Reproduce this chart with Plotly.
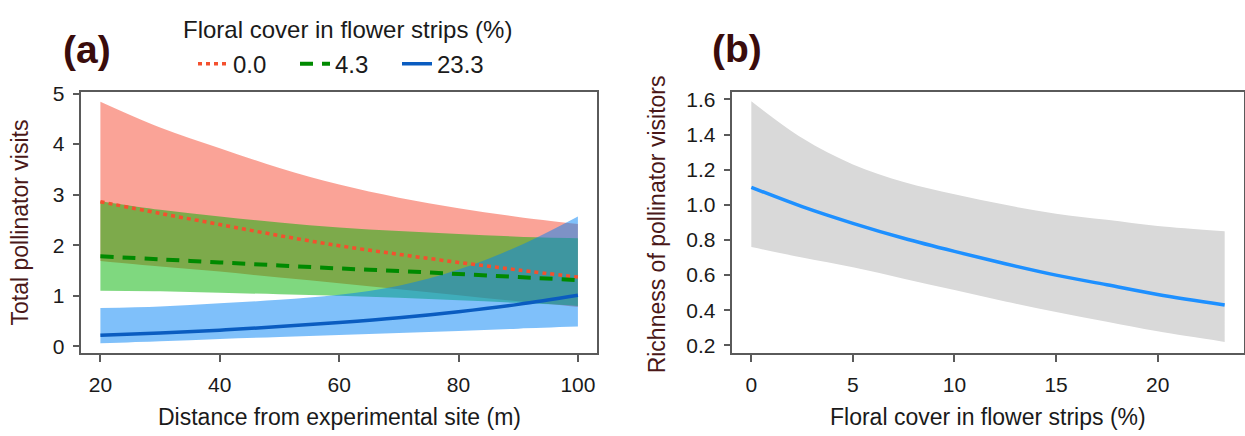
import plotly.graph_objects as go

W, H = 1245, 436

# ---------------- Panel (a) data ----------------
distance = [20, 30, 40, 50, 60, 70, 80, 90, 100]
legend_labels = ["0.0", "4.3", "23.3"]

red_mean = [2.86, 2.63, 2.41, 2.19, 1.99, 1.82, 1.66, 1.51, 1.37]
red_upper = [4.84, 4.33, 3.92, 3.53, 3.20, 2.94, 2.73, 2.56, 2.42]
red_lower = [1.69, 1.58, 1.48, 1.36, 1.25, 1.13, 1.01, 0.89, 0.78]

green_mean = [1.78, 1.72, 1.66, 1.60, 1.54, 1.49, 1.43, 1.37, 1.31]
green_upper = [2.87, 2.70, 2.57, 2.45, 2.35, 2.28, 2.22, 2.17, 2.14]
green_lower = [1.10, 1.09, 1.06, 1.03, 1.00, 0.96, 0.91, 0.86, 0.80]

blue_mean = [0.22, 0.265, 0.32, 0.39, 0.47, 0.565, 0.685, 0.83, 1.01]
blue_upper = [0.76, 0.79, 0.85, 0.92, 1.02, 1.20, 1.52, 1.98, 2.57]
blue_lower = [0.06, 0.10, 0.145, 0.185, 0.225, 0.265, 0.305, 0.35, 0.39]

# ---------------- Panel (b) data ----------------
floral = [0, 2.5, 5, 7.5, 10, 12.5, 15, 17.5, 20, 23.3]
rich_mean = [1.10, 0.99, 0.895, 0.81, 0.735, 0.665, 0.60, 0.545, 0.49, 0.43]
rich_upper = [1.59, 1.38, 1.23, 1.13, 1.06, 1.00, 0.95, 0.915, 0.88, 0.85]
rich_lower = [0.76, 0.70, 0.645, 0.58, 0.515, 0.45, 0.39, 0.335, 0.28, 0.22]

xticks_a = [20, 40, 60, 80, 100]
yticks_a = [0, 1, 2, 3, 4, 5]
xticks_b = [0, 5, 10, 15, 20]
yticks_b = [0.2, 0.4, 0.6, 0.8, 1.0, 1.2, 1.4, 1.6]

FONT = "Liberation Sans, Arial, sans-serif"
BROWN = "#4a1818"
TITLE_BROWN = "#3a0c0c"

fig = go.Figure()

bands = [
    (red_lower, red_upper, "rgba(245,72,48,0.5)"),
    (green_lower, green_upper, "rgba(0,178,0,0.5)"),
    (blue_lower, blue_upper, "rgba(0,130,245,0.5)"),
]
for lo, up, col in bands:
    fig.add_trace(go.Scatter(x=distance, y=lo, mode="lines", line=dict(width=0, shape="spline"),
                             showlegend=False, hoverinfo="skip", xaxis="x", yaxis="y"))
    fig.add_trace(go.Scatter(x=distance, y=up, mode="lines", line=dict(width=0, shape="spline"),
                             fill="tonexty", fillcolor=col, showlegend=False, hoverinfo="skip",
                             xaxis="x", yaxis="y"))

lines = [
    (red_mean, legend_labels[0], "#f4502e", "4px,4px", 3.5),
    (green_mean, legend_labels[1], "#008a00", "13px,9px", 4),
    (blue_mean, legend_labels[2], "#0a5cc0", "solid", 3.5),
]
for vals, name, col, dash, w in lines:
    fig.add_trace(go.Scatter(x=distance, y=vals, mode="lines", name=name,
                             line=dict(color=col, dash=dash, width=w, shape="spline"),
                             xaxis="x", yaxis="y"))

# panel b
fig.add_trace(go.Scatter(x=floral, y=rich_lower, mode="lines", line=dict(width=0, shape="spline"),
                         showlegend=False, hoverinfo="skip", xaxis="x2", yaxis="y2"))
fig.add_trace(go.Scatter(x=floral, y=rich_upper, mode="lines", line=dict(width=0, shape="spline"),
                         fill="tonexty", fillcolor="#d9d9d9", showlegend=False, hoverinfo="skip",
                         xaxis="x2", yaxis="y2"))
fig.add_trace(go.Scatter(x=floral, y=rich_mean, mode="lines", showlegend=False,
                         line=dict(color="#1e90ff", width=3.5, shape="spline"),
                         xaxis="x2", yaxis="y2"))

def px(xp):
    return xp / W

def py(yp):
    return 1 - yp / H

axis_common = dict(showline=True, linecolor="#5a5a5a", linewidth=1.5, mirror=True,
                   ticks="outside", ticklen=7, tickwidth=1.5, tickcolor="#5a5a5a",
                   showgrid=False, zeroline=False,
                   tickfont=dict(family=FONT, size=21, color="#1a1a1a"))

ydom = [py(355), py(85)]
fig.update_layout(
    width=W, height=H,
    margin=dict(l=0, r=0, t=0, b=0),
    paper_bgcolor="white", plot_bgcolor="white",
    font=dict(family=FONT, color="#1a1a1a"),
    xaxis=dict(domain=[px(81.3), px(597)], range=[16.8, 103.2], tickvals=xticks_a,
               anchor="y", ticklabelstandoff=5, **axis_common),
    yaxis=dict(domain=ydom, range=[-0.128, 5.03], tickvals=yticks_a,
               anchor="x", ticklabelstandoff=4, **axis_common),
    xaxis2=dict(domain=[px(732.4), px(1243.6)], range=[-0.932, 24.232], tickvals=xticks_b,
                anchor="y2", ticklabelstandoff=5, **axis_common),
    yaxis2=dict(domain=ydom, range=[0.158, 1.642], tickvals=yticks_b, tickformat=".1f",
                anchor="x2", ticklabelstandoff=4, **axis_common),
    legend=dict(orientation="h", x=px(193), xanchor="left", y=py(56), yanchor="middle",
                bgcolor="rgba(0,0,0,0)", font=dict(family=FONT, size=24, color="#1a1a1a"),
                traceorder="normal", itemwidth=30, entrywidth=57),
    showlegend=True,
)

ann = [
    dict(text="<b>(a)</b>", x=px(87), y=py(41), size=39, color=TITLE_BROWN, angle=0),
    dict(text="<b>(b)</b>", x=px(737), y=py(40), size=39, color=TITLE_BROWN, angle=0),
    dict(text="Floral cover in flower strips (%)", x=px(347), y=py(20), size=24, color="#1a1a1a", angle=0),
    dict(text="Total pollinator visits", x=px(20), y=py(220), size=23, color=BROWN, angle=-90),
    dict(text="Richness of pollinator visitors", x=px(657), y=py(222), size=23, color=BROWN, angle=-90),
    dict(text="Distance from experimental site (m)", x=px(339), y=py(422), size=23, color="#1a1a1a", angle=0),
    dict(text="Floral cover in flower strips (%)", x=px(988), y=py(422), size=23, color="#1a1a1a", angle=0),
]
for a in ann:
    fig.add_annotation(text=a["text"], x=a["x"], y=a["y"], xref="paper", yref="paper",
                       xanchor="center", yanchor="middle", showarrow=False, textangle=a["angle"],
                       font=dict(family=FONT, size=a["size"], color=a["color"]))

fig.write_html("out.html", config={"displayModeBar": False},
               post_script="document.body.style.margin='0px';")
